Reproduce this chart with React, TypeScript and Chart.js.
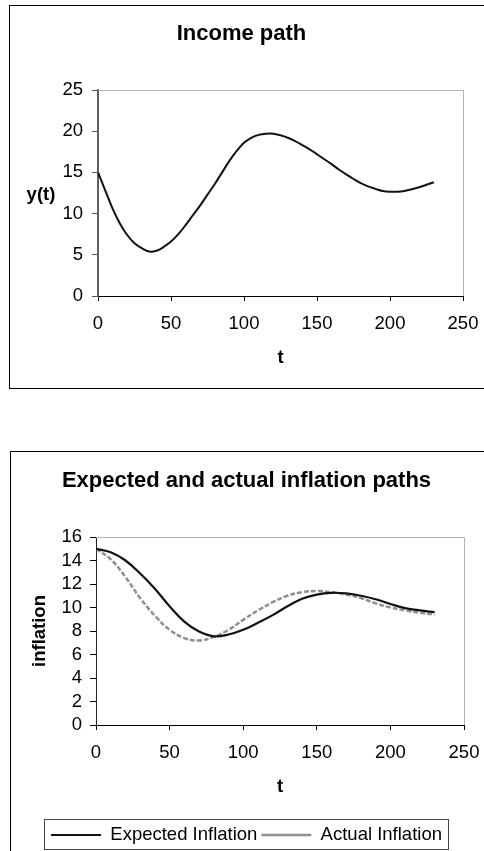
import React, { useEffect, useRef } from "react";
import { Chart, registerables } from "chart.js";

Chart.register(...registerables);

const FONT = "'Liberation Sans', Arial, Helvetica, sans-serif";

// ---- Income path (top chart) ----
const incomeT = [
  0, 5, 10, 15, 20, 25, 30, 35, 40, 45, 50, 55, 60, 65, 70, 75, 80, 85, 90, 95, 100, 105, 110, 115,
  120, 125, 130, 135, 140, 145, 150, 155, 160, 165, 170, 175, 180, 185, 190, 195, 200, 205, 210,
  215, 220, 225, 230,
];
const incomeY = [
  15.0, 12.8, 10.6, 8.8, 7.4, 6.4, 5.8, 5.4, 5.5, 5.95, 6.6, 7.5, 8.6, 9.8, 11.0, 12.3, 13.6, 15.0,
  16.4, 17.6, 18.6, 19.2, 19.55, 19.7, 19.7, 19.5, 19.2, 18.8, 18.3, 17.8, 17.2, 16.6, 16.0, 15.35,
  14.75, 14.2, 13.7, 13.3, 13.0, 12.75, 12.65, 12.65, 12.75, 12.95, 13.2, 13.5, 13.8,
];

// ---- Expected and actual inflation (bottom chart) ----
const inflationT = [
  0, 10, 20, 30, 40, 50, 60, 70, 80, 90, 100, 110, 120, 130, 140, 150, 160, 170, 180, 190, 200, 210,
  220, 230,
];
const expectedInflation = [
  15.0, 14.7, 14.0, 12.9, 11.6, 10.1, 8.8, 7.95, 7.55, 7.7, 8.1, 8.7, 9.35, 10.1, 10.75, 11.1, 11.25,
  11.2, 11.0, 10.7, 10.3, 9.95, 9.75, 9.6,
];
const actualInflation = [
  15.0, 14.1, 12.6, 10.8, 9.3, 8.1, 7.4, 7.2, 7.5, 8.1, 8.95, 9.75, 10.45, 11.0, 11.3, 11.4, 11.3,
  11.1, 10.8, 10.35, 10.0, 9.75, 9.55, 9.4,
];

const X_MIN = 0;
const X_MAX = 250;
const X_STEP = 50;
const INCOME_Y_MAX = 25;
const INCOME_Y_STEP = 5;
const INFL_Y_MAX = 16;
const INFL_Y_STEP = 2;

const toPoints = (xs: number[], ys: number[]) => xs.map((x, i) => ({ x, y: ys[i] }));

const plotFrame = (color: string) => ({
  id: "plotFrame",
  beforeDatasetsDraw(chart: any) {
    const { ctx, chartArea: a } = chart;
    const t = Math.round(a.top) + 0.5;
    const r = Math.round(a.right) + 0.5;
    ctx.save();
    ctx.strokeStyle = color;
    ctx.lineWidth = 1;
    ctx.beginPath();
    ctx.moveTo(a.left, t);
    ctx.lineTo(r, t);
    ctx.lineTo(r, a.bottom);
    ctx.stroke();
    ctx.restore();
  },
});

const sideLabel = (text: string, x: number, y: number) => ({
  id: "sideLabel",
  afterDraw(chart: any) {
    const { ctx } = chart;
    ctx.save();
    ctx.font = `bold 18.5px ${FONT}`;
    ctx.fillStyle = "#000";
    ctx.textAlign = "center";
    ctx.textBaseline = "middle";
    ctx.fillText(text, x, y);
    ctx.restore();
  },
});

const legendFrame = {
  id: "legendFrame",
  afterDraw(chart: any) {
    const lg = chart.legend;
    if (!lg || !lg.legendHitBoxes || !lg.legendHitBoxes.length) return;
    const hb = lg.legendHitBoxes;
    let l = Infinity, r = -Infinity, t = Infinity, b = -Infinity;
    hb.forEach((h: any) => {
      l = Math.min(l, h.left);
      r = Math.max(r, h.left + h.width);
      t = Math.min(t, h.top);
      b = Math.max(b, h.top + h.height);
    });
    const { ctx } = chart;
    ctx.save();
    ctx.strokeStyle = "#444";
    ctx.lineWidth = 1;
    const x0 = Math.round(l - 7) + 0.5;
    const x1 = Math.round(r + 6) + 0.5;
    const y0 = Math.round(t - 7) + 0.5;
    const y1 = Math.round(b + 5) + 0.5;
    ctx.strokeRect(x0, y0, x1 - x0, y1 - y0);
    ctx.restore();
  },
};

const tickFont = { family: FONT, size: 18.5 };
const axisTitleFont = { family: FONT, size: 18.5, weight: "bold" as const };
const titleFont = { family: FONT, size: 22, weight: "bold" as const };

const fixXAxis = (h: number) => (s: any) => {
  s.height = h;
  s.paddingLeft = 0;
  s.paddingRight = 0;
};
const fixYAxis = (w: number) => (s: any) => {
  s.width = w;
  s.paddingTop = 0;
  s.paddingBottom = 0;
};

function incomeConfig(): any {
  return {
    type: "line",
    data: {
      datasets: [
        {
          label: "y(t)",
          data: toPoints(incomeT, incomeY),
          borderColor: "#111",
          borderWidth: 2,
          pointRadius: 0,
          fill: false,
          tension: 0.4,
        },
      ],
    },
    options: {
      responsive: false,
      animation: false,
      devicePixelRatio: 1,
      layout: { padding: { left: 0, right: 21, top: 0, bottom: 0 } },
      plugins: {
        legend: { display: false },
        tooltip: { enabled: false },
        title: {
          display: true,
          text: "Income path",
          color: "#000",
          font: titleFont,
          padding: { top: 21, bottom: 42.6 },
        },
      },
      scales: {
        x: {
          type: "linear",
          min: X_MIN,
          max: X_MAX,
          ticks: { stepSize: X_STEP, color: "#000", font: tickFont, padding: 12, maxRotation: 0, autoSkip: false },
          grid: { drawOnChartArea: false, drawTicks: true, tickLength: 5, color: "#000" },
          border: { display: true, color: "#000", width: 1 },
          title: {
            display: true,
            text: "t",
            color: "#000",
            font: axisTitleFont,
            padding: { top: 0, bottom: 31 },
          },
          afterFit: fixXAxis(104),
        },
        y: {
          type: "linear",
          min: 0,
          max: INCOME_Y_MAX,
          ticks: { stepSize: INCOME_Y_STEP, color: "#000", font: tickFont, padding: 9, autoSkip: false },
          grid: { drawOnChartArea: false, drawTicks: true, tickLength: 6, color: "#555" },
          border: { display: true, color: "#606060", width: 2 },
          afterFit: fixYAxis(78),
        },
      },
    },
    plugins: [plotFrame("#b4b4b4"), sideLabel("y(t)", 21, 195)],
  };
}

function inflationConfig(): any {
  return {
    type: "line",
    data: {
      datasets: [
        {
          label: "Expected Inflation",
          data: toPoints(inflationT, expectedInflation),
          borderColor: "#111",
          borderWidth: 2.2,
          pointRadius: 0,
          fill: false,
          tension: 0.4,
        },
        {
          label: "Actual Inflation",
          data: toPoints(inflationT, actualInflation),
          borderColor: "#909090",
          borderWidth: 2.5,
          borderDash: [5, 2],
          pointRadius: 0,
          fill: false,
          tension: 0.4,
        },
      ],
    },
    options: {
      responsive: false,
      animation: false,
      devicePixelRatio: 1,
      layout: { padding: { left: 0, right: 20, top: 0, bottom: 5.75 } },
      plugins: {
        tooltip: { enabled: false },
        title: {
          display: true,
          text: "Expected and actual inflation paths",
          color: "#000",
          font: titleFont,
          padding: { top: 28, bottom: 42.6 },
        },
        legend: {
          display: true,
          position: "bottom",
          labels: {
            color: "#000",
            font: { family: FONT, size: 18.5 },
            usePointStyle: true,
            pointStyle: "line",
            pointStyleWidth: 50,
            padding: 4,
          },
        },
      },
      scales: {
        x: {
          type: "linear",
          min: X_MIN,
          max: X_MAX,
          ticks: { stepSize: X_STEP, color: "#000", font: tickFont, padding: 12, maxRotation: 0, autoSkip: false },
          grid: { drawOnChartArea: false, drawTicks: true, tickLength: 5, color: "#000" },
          border: { display: true, color: "#000", width: 1 },
          title: {
            display: true,
            text: "t",
            color: "#000",
            font: axisTitleFont,
            padding: { top: 0, bottom: 23.65 },
          },
          afterFit: fixXAxis(96.75),
        },
        y: {
          type: "linear",
          min: 0,
          max: INFL_Y_MAX,
          ticks: { stepSize: INFL_Y_STEP, color: "#000", font: tickFont, padding: 8, autoSkip: false },
          grid: { drawOnChartArea: false, drawTicks: true, tickLength: 6, color: "#000" },
          border: { display: true, color: "#222", width: 1 },
          title: {
            display: true,
            text: "inflation",
            color: "#000",
            font: axisTitleFont,
            padding: { top: 0, bottom: 0 },
          },
          afterFit: fixYAxis(67),
        },
      },
    },
    plugins: [plotFrame("#b4b4b4"), legendFrame],
  };
}

function ChartCanvas(props: {
  make: () => any;
  left: number;
  top: number;
  width: number;
  height: number;
}) {
  const ref = useRef<HTMLCanvasElement>(null);
  useEffect(() => {
    const chart = new Chart(ref.current as HTMLCanvasElement, props.make());
    return () => chart.destroy();
  }, []);
  return (
    <canvas
      ref={ref}
      width={props.width}
      height={props.height}
      style={{
        position: "absolute",
        left: props.left,
        top: props.top,
        width: props.width,
        height: props.height,
      }}
    />
  );
}

export default function App() {
  return (
    <div
      style={{
        position: "absolute",
        left: 0,
        top: 0,
        width: 484,
        height: 851,
        overflow: "hidden",
        background: "#fff",
      }}
    >
      <div
        style={{
          position: "absolute",
          left: 9,
          top: 5,
          width: 520,
          height: 384,
          border: "1px solid #000",
          boxSizing: "border-box",
        }}
      />
      <div
        style={{
          position: "absolute",
          left: 10,
          top: 451,
          width: 520,
          height: 440,
          border: "1px solid #000",
          boxSizing: "border-box",
        }}
      />
      <ChartCanvas make={incomeConfig} left={20} top={0} width={464} height={400} />
      <ChartCanvas make={inflationConfig} left={29} top={440} width={455} height={420} />
    </div>
  );
}
